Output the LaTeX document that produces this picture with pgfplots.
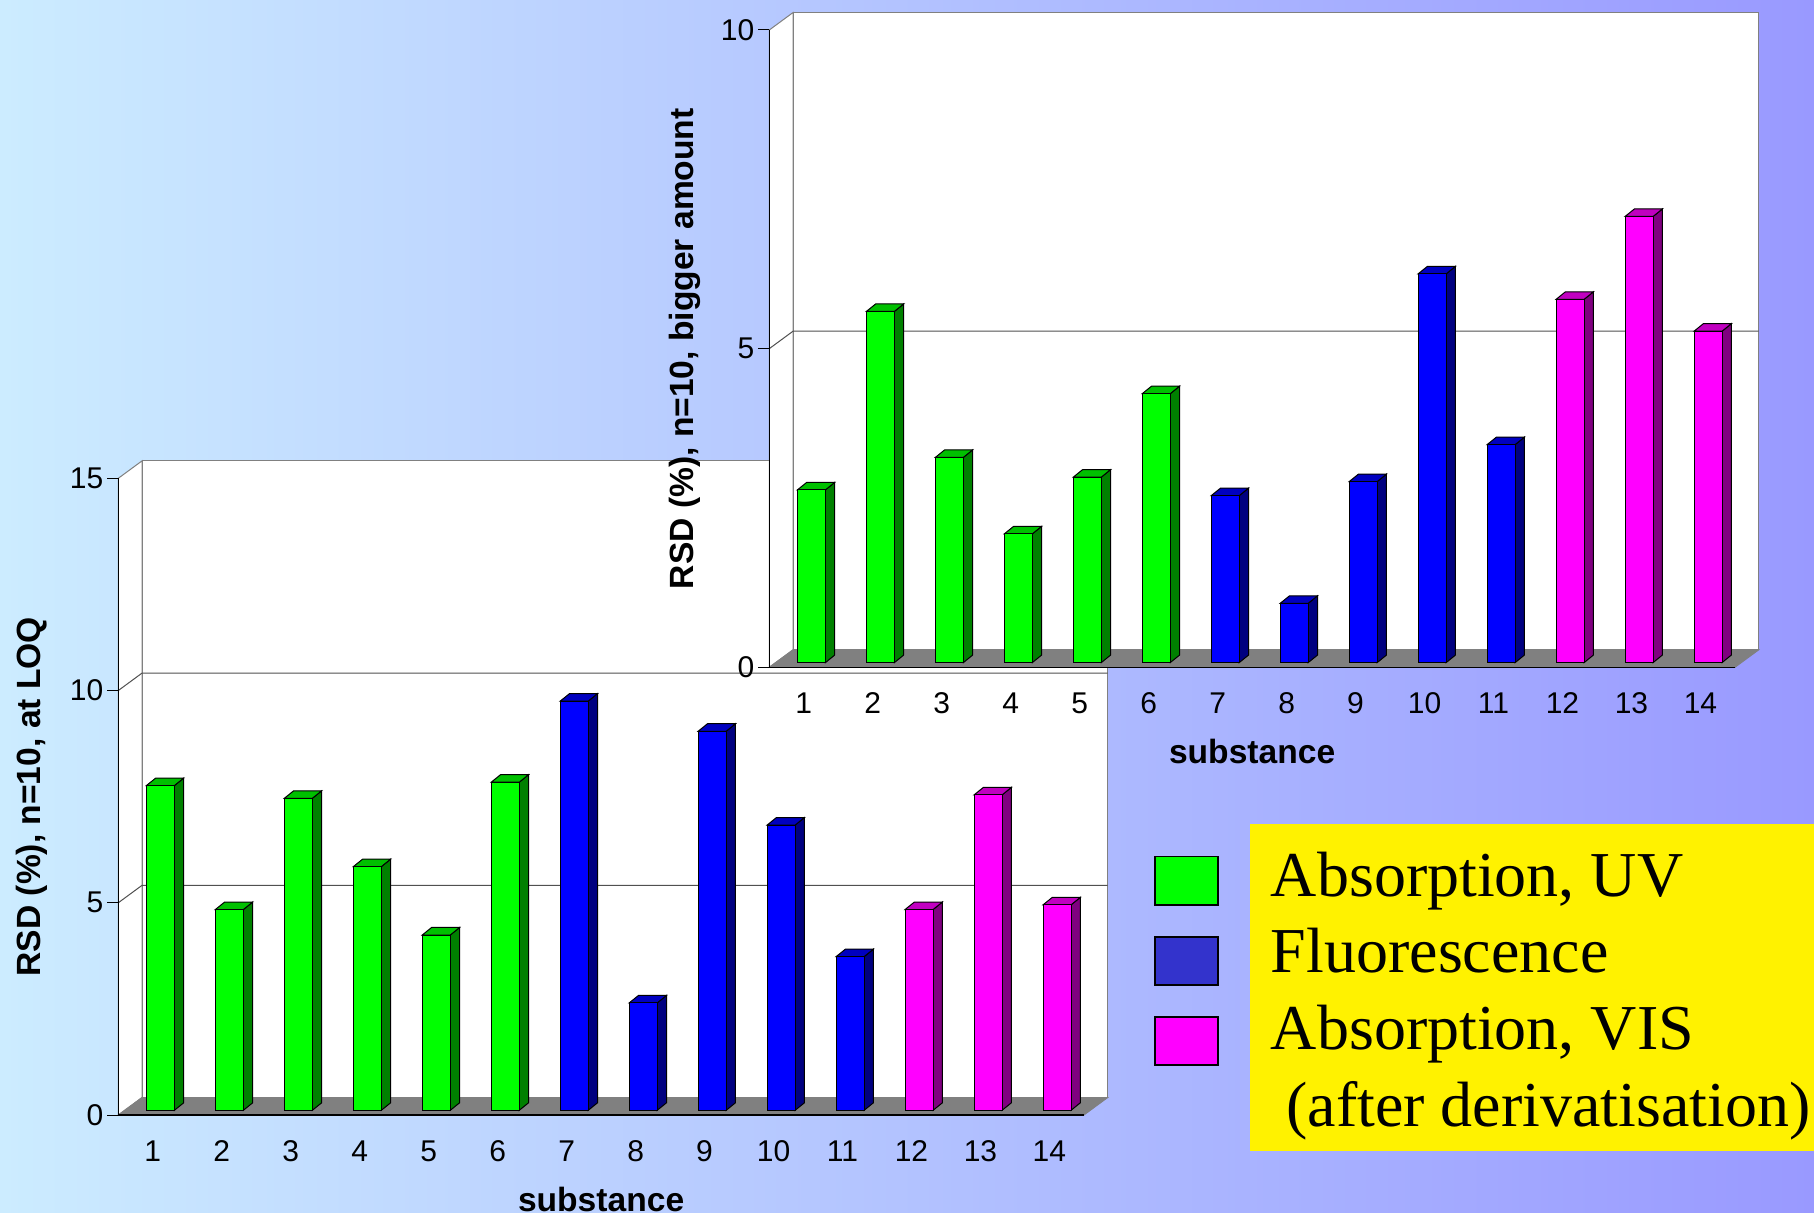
\documentclass[border=0pt]{standalone}
\usepackage{fontspec}
\setmainfont{Liberation Sans}
\newfontfamily\legendfont{Liberation Serif}
\usepackage{pgfplots}
\usepackage{pgfplotstable}
\pgfplotsset{compat=1.18}

% Precision at the limit of quantitation, by detection group
\pgfplotstableread{
x v
1 7.65
2 4.73
3 7.35
4 5.74
5 4.13
6 7.73
}\loqUV
\pgfplotstableread{
x v
7 9.64
8 2.53
9 8.93
10 6.72
11 3.62
}\loqFL
\pgfplotstableread{
x v
12 4.73
13 7.43
14 4.84
}\loqVIS

% Precision at the bigger amount
\pgfplotstableread{
x v
1 2.71
2 5.51
3 3.22
4 2.02
5 2.91
6 4.22
}\bigUV
\pgfplotstableread{
x v
7 2.62
8 0.93
9 2.84
10 6.10
11 3.42
}\bigFL
\pgfplotstableread{
x v
12 5.70
13 7.00
14 5.20
}\bigVIS

\definecolor{uvfront}{HTML}{00FF00}
\definecolor{uvside}{HTML}{008000}
\definecolor{uvtop}{HTML}{00C000}
\definecolor{flfront}{HTML}{0000FF}
\definecolor{flside}{HTML}{000080}
\definecolor{fltop}{HTML}{0000C0}
\definecolor{visfront}{HTML}{FF00FF}
\definecolor{visside}{HTML}{800080}
\definecolor{vistop}{HTML}{C000C0}
\definecolor{legendblue}{HTML}{3333CC}
\definecolor{floorgrey}{HTML}{808080}
\definecolor{wallgrey}{HTML}{808080}
\definecolor{gridgrey}{HTML}{505050}
\definecolor{bgleft}{HTML}{CCECFF}
\definecolor{bgright}{HTML}{9999FF}

\pgfplotsset{
  chartframe/.style={
    scale only axis, width=482.8pt, clip=false, axis on top,
    axis lines=left, axis line style={-, black, line width=0.6pt},
    xmin=0.5, xmax=14.5, ymin=0,
    xtick={1,...,14},
    minor xtick={0.5,1.5,...,14.5},
    tick align=outside,
    major tick length=5.5pt, minor tick length=5.5pt,
    xtick style={draw=none},
    ytick style={black, line width=0.5pt},
    minor x tick style={black, line width=0.5pt},
    /pgf/number format/assume math mode=true,
    tick label style={font=\fontsize{15}{18}\selectfont},
    xticklabel style={inner sep=7pt},
    yticklabel style={inner sep=1.8pt},
    xlabel={\bfseries substance},
    x label style={at={(axis description cs:0.5,-0.1325)}, anchor=center,
      inner sep=0pt, font=\fontsize{16.8}{20}\selectfont},
    y label style={anchor=center, inner sep=0pt,
      font=\fontsize{16.8}{20}\selectfont},
  },
  wallface/.style={fill=white, draw=wallgrey, line width=0.5pt, forget plot},
  gridface/.style={draw=gridgrey, line width=0.5pt, forget plot},
  % bars stand a little in front of the back wall
  barplane/.style={xshift=3.8pt, yshift=2.35pt},
  frontbar/.style={ybar, barplane, bar width=0.406, bar shift=0pt,
    fill=#1, draw=black, line width=0.5pt},
}

% Side and top faces of the bars listed in a table: #1 table, #2 side colour,
% #3 top colour, #4 depth in y units
\newcommand\barfaces[4]{%
  \pgfplotstablegetrowsof{#1}%
  \pgfmathtruncatemacro\lastrow{\pgfplotsretval-1}%
  \pgfplotsforeachungrouped \rowidx in {0,...,\lastrow}{%
    \pgfplotstablegetelem{\rowidx}{x}\of{#1}\let\bx\pgfplotsretval
    \pgfplotstablegetelem{\rowidx}{v}\of{#1}\let\bv\pgfplotsretval
    \pgfmathsetmacro\xa{\bx-0.203}%
    \pgfmathsetmacro\xb{\bx+0.203}%
    \pgfmathsetmacro\xc{\bx+0.338}%
    \pgfmathsetmacro\xd{\bx-0.068}%
    \pgfmathsetmacro\yt{\bv+#4}%
    \edef\drawfaces{%
      \noexpand\addplot[barplane, fill=#2, draw=black, line width=0.5pt, forget plot]
        coordinates {(\xb,0) (\xc,#4) (\xc,\yt) (\xb,\bv)} -- cycle;
      \noexpand\addplot[barplane, fill=#3, draw=black, line width=0.5pt, forget plot]
        coordinates {(\xa,\bv) (\xb,\bv) (\xc,\yt) (\xd,\yt)} -- cycle;
    }\drawfaces
  }%
}

% Walls and floor of the box: #1 y maximum, #2 wall depth in y units
\newcommand\chartbox[2]{%
  \pgfmathsetmacro\walltop{#1+#2}%
  \edef\drawbox{%
    \noexpand\addplot[wallface] coordinates
      {(0.5,0) (0.845,#2) (0.845,\walltop) (0.5,#1)} -- cycle;
    \noexpand\addplot[wallface] coordinates
      {(0.845,#2) (14.845,#2) (14.845,\walltop) (0.845,\walltop)} -- cycle;
    \noexpand\addplot[fill=floorgrey, draw=floorgrey, line width=0.5pt, forget plot] coordinates
      {(0.5,0) (14.5,0) (14.845,#2) (0.845,#2)} -- cycle;
  }\drawbox
}

\newcommand\gridat[2]{%
  \pgfmathsetmacro\gridtop{#1+#2}%
  \edef\drawgrid{%
    \noexpand\addplot[gridface] coordinates
      {(0.5,#1) (0.845,\gridtop) (14.845,\gridtop)};
  }\drawgrid
}

\begin{document}
\begin{tikzpicture}[x=0.5pt, y=-0.5pt]
  \path[use as bounding box] (0,0) rectangle (1814,1213);
  \begin{scope}[overlay]
  \fill[left color=bgleft, right color=bgright] (0,-2) rectangle (1814,1217);

  \coordinate (lowerO) at (118.3,1115);
  \coordinate (upperO) at (769.3,667.3);

  % Lower chart
  \begin{axis}[chartframe, at={(lowerO)}, anchor=south west,
      height=318.35pt, ymax=15, ytick={0,5,10,15},
      y label style={at={(axis description cs:-0.0895,0.5)}},
      ylabel={\bfseries RSD (\%), n=10, at LOQ}]
    \chartbox{15}{0.412}
    \gridat{5}{0.412}
    \gridat{10}{0.412}
    \barfaces{\loqUV}{uvside}{uvtop}{0.177}
    \barfaces{\loqFL}{flside}{fltop}{0.177}
    \barfaces{\loqVIS}{visside}{vistop}{0.177}
    \addplot[frontbar=uvfront] table[x=x, y=v] {\loqUV};
    \addplot[frontbar=flfront] table[x=x, y=v] {\loqFL};
    \addplot[frontbar=visfront] table[x=x, y=v] {\loqVIS};
  \end{axis}

  % Upper chart
  \begin{axis}[chartframe, at={(upperO)}, anchor=south west,
      height=318.65pt, ymax=10, ytick={0,5,10},
      y label style={at={(axis description cs:-0.0875,0.5)}},
      ylabel={\bfseries RSD (\%), n=10, bigger amount}]
    \chartbox{10}{0.2746}
    \gridat{5}{0.2746}
    \barfaces{\bigUV}{uvside}{uvtop}{0.118}
    \barfaces{\bigFL}{flside}{fltop}{0.118}
    \barfaces{\bigVIS}{visside}{vistop}{0.118}
    \addplot[frontbar=uvfront] table[x=x, y=v] {\bigUV};
    \addplot[frontbar=flfront] table[x=x, y=v] {\bigFL};
    \addplot[frontbar=visfront] table[x=x, y=v] {\bigVIS};
  \end{axis}

  % Key
  \draw[fill=uvfront, line width=0.9pt] (1155,856.5) rectangle (1218,905);
  \draw[fill=legendblue, line width=0.9pt] (1155,937) rectangle (1218,985);
  \draw[fill=visfront, line width=0.9pt] (1155,1017) rectangle (1218,1065);
  \fill[yellow] (1250,824) rectangle (1814,1150.5);
  \begin{scope}[every node/.style={anchor=base west, inner sep=0pt,
      font=\legendfont\fontsize{32}{38}\selectfont}]
    \node at (1270.5,896.7) {Absorption, UV};
    \node at (1270.5,972.3) {Fluorescence};
    \node at (1270.5,1049.3) {Absorption, VIS};
    \node at (1286,1126) {(after derivatisation)};
  \end{scope}
  \end{scope}
\end{tikzpicture}
\end{document}
